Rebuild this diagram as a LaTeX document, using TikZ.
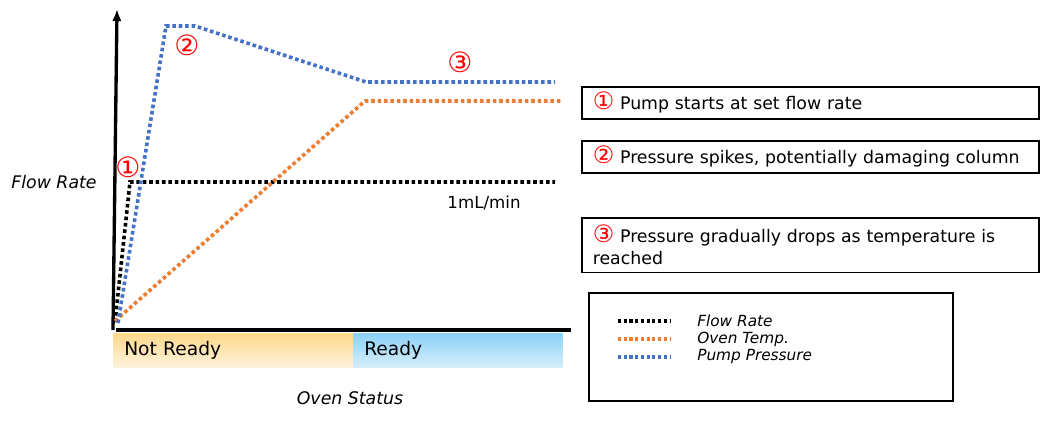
\documentclass[tikz,border=0pt]{standalone}
\usepackage{fontspec}
\setmainfont{DejaVu Sans}
\usetikzlibrary{arrows.meta}

\definecolor{pumpblue}{HTML}{4472C4}
\definecolor{ovenorange}{HTML}{ED7D31}
\definecolor{markred}{HTML}{FF0000}
\definecolor{notreadytop}{HTML}{FFD889}
\definecolor{notreadybot}{HTML}{FFF3DF}
\definecolor{readytop}{HTML}{8CD1F7}
\definecolor{readybot}{HTML}{D8EFFC}

% circled step number, enlarged to match the text
\newcommand{\stepnum}[1]{\textcolor{markred}{\fontsize{18}{12}\selectfont #1}}

\begin{document}
\begin{tikzpicture}
	[
	x=0.75pt, y=-0.75pt,
	axis/.style={line width=2.5pt},
	trace/.style={line width=2.7pt, dash pattern=on 2.7pt off 2.1pt},
	keytrace/.style={line width=2.3pt, dash pattern=on 2.3pt off 2pt},
	callout/.style={text=markred, font=\fontsize{21}{22}\selectfont},
	label/.style={font=\fontsize{13}{15}\selectfont\itshape},
	status/.style={anchor=north west, inner xsep=8.25pt, inner ysep=0pt, minimum height=26pt, align=left, font=\fontsize{14}{16}\selectfont},
	note/.style={draw, line width=1.2pt, anchor=north west, inner xsep=8.25pt, inner ysep=3pt, text width=326.25pt, align=left, font=\fontsize{13}{16.5}\selectfont},
	]
		\useasboundingbox (0,0) rectangle (1040,431);

		% axes
		\coordinate (origin) at 	( 116, 330 );
		\coordinate (ytop) at 		( 117,   9 );
		\coordinate (xend) at 		( 571, 330 );
		\draw[axis] (origin) -- (xend);
		\draw[axis, -{Latex[length=9pt, width=7pt]}] (113, 330) -- (ytop);

		% oven status bars
		\node[status, minimum width=180pt, text width=163.5pt, top color=notreadytop, bottom color=notreadybot] (notready) at ( 113, 333 ) {Not Ready};
		\node[status, minimum width=157pt, text width=140.5pt, top color=readytop, bottom color=readybot] (ready) at ( 353, 333 ) {Ready};

		% axis labels
		\node[label] (ylabel) at 	(  54, 182 ) {Flow Rate};
		\node[label] (xlabel) at 	( 350, 398 ) {Oven Status};
		\node[font=\fontsize{12.5}{15}\selectfont] (rate) at ( 484, 203 ) {1mL/min};

		% flow rate
		\coordinate (f0) at 		( 115, 322 );
		\coordinate (f1) at 		( 130, 182 );
		\coordinate (f2) at 		( 555, 182 );
		\draw[trace, black] (f0) -- (f1) -- (f2);

		% oven temperature
		\coordinate (t0) at 		( 115, 321 );
		\coordinate (t1) at 		( 365, 101 );
		\coordinate (t2) at 		( 562, 101 );
		\draw[trace, ovenorange] (t0) -- (t1) -- (t2);

		% pump pressure
		\coordinate (p0) at 		( 118, 323 );
		\coordinate (p1) at 		( 166,  26 );
		\coordinate (p2) at 		( 195,  26 );
		\coordinate (p3) at 		( 366,  82 );
		\coordinate (p4) at 		( 555,  82 );
		\draw[trace, pumpblue] (p0) -- (p1) -- (p2) -- (p3) -- (p4);

		% callouts
		\node[callout] (c1) at 		( 128, 167 ) {①};
		\node[callout] (c2) at 		( 187,  45 ) {②};
		\node[callout] (c3) at 		( 460,  62 ) {③};

		% notes
		\node[note, minimum height=24pt] (n1) at ( 581,  86 ) {\stepnum{①} Pump starts at set flow rate};
		\node[note, minimum height=24pt] (n2) at ( 581, 140 ) {\stepnum{②} Pressure spikes, potentially damaging column};
		\node[note, minimum height=41pt] (n3) at ( 581, 217 ) {\stepnum{③} Pressure gradually drops as temperature is\\reached};

		% legend
		\node[draw, line width=1.2pt, anchor=north west, minimum width=273pt, minimum height=81pt] (legend) at ( 588, 292 ) {};
		\foreach \y/\col/\txt [count=\i] in {321/black/Flow Rate, 339/ovenorange/Oven Temp., 357/pumpblue/Pump Pressure} {
			\coordinate (k\i a) at ( 618, \y );
			\coordinate (k\i b) at ( 671, \y );
			\draw[keytrace, \col] (k\i a) -- (k\i b);
			\node[anchor=west, inner sep=0pt, font=\fontsize{11.5}{13}\selectfont\itshape] (k\i) at ( 697, \y ) {\txt};
		}

	\end{tikzpicture}
\end{document}
